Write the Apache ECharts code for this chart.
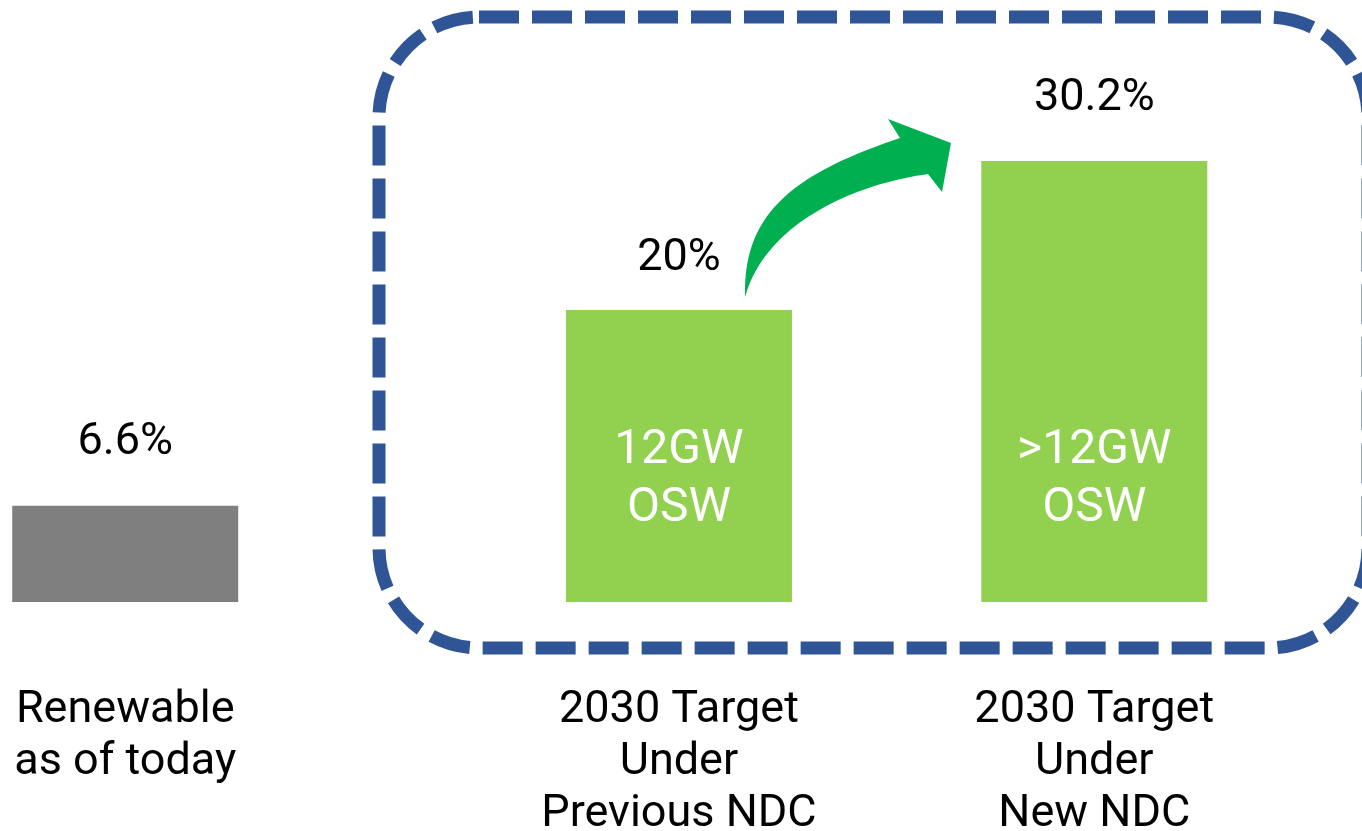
<!DOCTYPE html>
<html>
<head>
<meta charset="utf-8">
<script src="https://cdn.jsdelivr.net/npm/echarts@6/dist/echarts.min.js"></script>
<style>
  html, body { margin: 0; padding: 0; background: #ffffff; }
  #chart { width: 1362px; height: 831px; }
</style>
</head>
<body>
<div id="chart"></div>
<script>
// ---- data ----
const categories = ['Renewable\nas of today', '2030 Target\nUnder\nPrevious NDC', '2030 Target\nUnder\nNew NDC'];
const shareValues = [6.6, 20, 30.2];
const insideLabels = ['', '12GW\nOSW', '>12GW\nOSW'];

// ---- layout (not data) ----
const slotIndex = [0, 4, 7];      // category slots on an 8-slot axis
const slotCount = 8;
const barColors = ['#7F7F7F', '#92D050', '#92D050'];
const topLabelGap = [40, 29, 40];
const FONT = 'Roboto';

const axisCats = new Array(slotCount).fill('');
const seriesData = new Array(slotCount).fill('-');
const insideData = new Array(slotCount).fill('-');
slotIndex.forEach((s, i) => {
  axisCats[s] = categories[i];
  seriesData[s] = {
    value: shareValues[i],
    itemStyle: { color: barColors[i] },
    label: { distance: topLabelGap[i] }
  };
  insideData[s] = { value: shareValues[i], name: insideLabels[i] };
});

// curved arrow outline (decorative shape) sampled from cubic beziers
function cubic(p0, p1, p2, p3, n) {
  const pts = [];
  for (let k = 0; k <= n; k++) {
    const t = k / n, u = 1 - t;
    pts.push([
      u*u*u*p0[0] + 3*u*u*t*p1[0] + 3*u*t*t*p2[0] + t*t*t*p3[0],
      u*u*u*p0[1] + 3*u*u*t*p1[1] + 3*u*t*t*p2[1] + t*t*t*p3[1]
    ]);
  }
  return pts;
}
const arrowPts = []
  .concat(cubic([745, 297], [743, 215], [790, 175], [900, 138], 40))
  .concat([[888, 119], [951, 143], [942, 192]])
  .concat(cubic([928, 174], [850, 185], [765, 225], [745, 297], 40));

const chart = echarts.init(document.getElementById('chart'), null, { renderer: 'canvas' });
chart.setOption({
  animation: false,
  backgroundColor: '#ffffff',
  grid: { left: 56, right: 198.5, top: 18, bottom: 229, containLabel: false, outerBoundsMode: 'none' },
  xAxis: {
    type: 'category',
    data: axisCats,
    axisLine: { show: false },
    axisTick: { show: false },
    splitLine: { show: false },
    axisLabel: {
      interval: 0,
      margin: 83,
      fontFamily: FONT,
      fontSize: 45,
      lineHeight: 52,
      color: '#000000',
      align: 'center'
    }
  },
  yAxis: {
    type: 'value',
    min: 0,
    max: 40,
    show: false,
    splitLine: { show: false }
  },
  series: [
    {
      type: 'bar',
      data: seriesData,
      barWidth: 226,
      barGap: '-100%',
      clip: false,
      label: {
        show: true,
        position: 'top',
        distance: 40,
        fontFamily: FONT,
        fontSize: 45,
        lineHeight: 45,
        color: '#000000',
        formatter: p => p.value + '%'
      },
      z: 2
    },
    {
      type: 'bar',
      data: insideData,
      barWidth: 226,
      barGap: '-100%',
      clip: false,
      itemStyle: { color: 'rgba(0,0,0,0)' },
      label: {
        show: true,
        position: 'insideBottom',
        distance: 64,
        fontFamily: FONT,
        fontSize: 48,
        lineHeight: 58,
        color: '#ffffff',
        formatter: p => p.name
      },
      z: 3
    }
  ],
  graphic: [
    {
      type: 'rect',
      z: 1,
      shape: { x: 379, y: 17, width: 989, height: 631, r: 100 },
      style: {
        fill: 'none',
        stroke: '#2F5597',
        lineWidth: 13,
        lineDash: [40, 13]
      }
    },
    {
      type: 'polygon',
      z: 5,
      shape: { points: arrowPts },
      style: { fill: '#00B050' }
    }
  ]
});
</script>
</body>
</html>
